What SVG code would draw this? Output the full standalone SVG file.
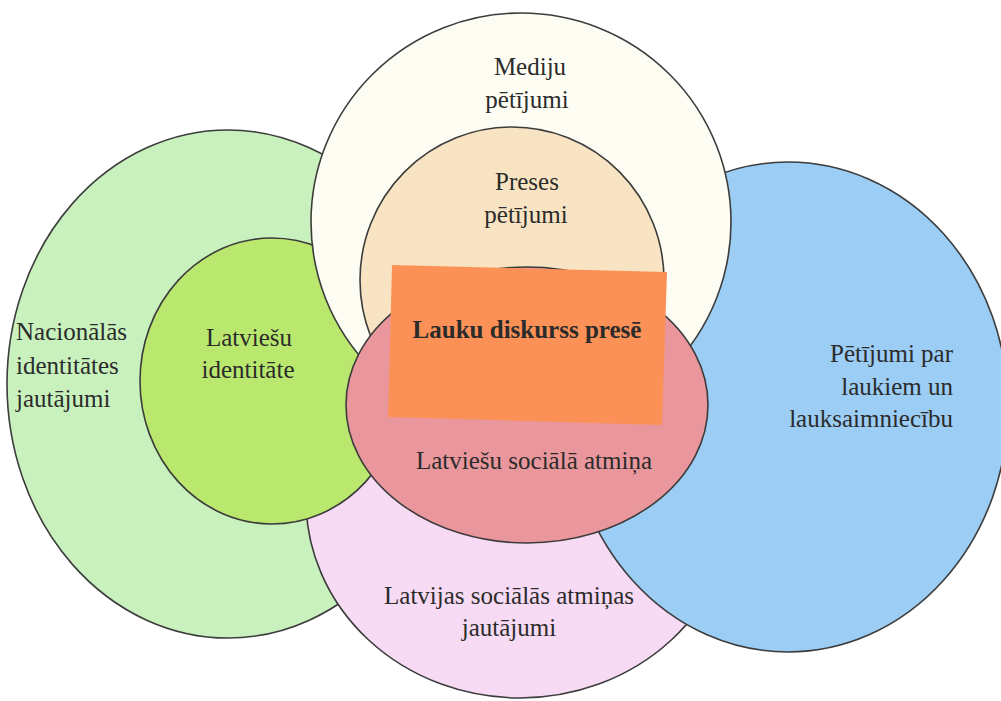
<svg xmlns="http://www.w3.org/2000/svg" width="1001" height="701" viewBox="0 0 1001 701">
<style>
.shape{stroke:#3c3c3c;stroke-width:1.6}
text{font-family:"Liberation Serif","Times New Roman",serif;font-size:25px;fill:#2b2b2b}
.c{text-anchor:middle}
.r{text-anchor:end}
.b{font-weight:bold}
</style>
<rect x="0" y="0" width="1001" height="701" fill="#ffffff"/>
<g id="nacionalas-identitates">
<ellipse class="shape" cx="228" cy="384" rx="221" ry="254" fill="#c9f1bd"/>
<text x="16" y="340">Nacionālās</text>
<text x="16" y="374">identitātes</text>
<text x="16" y="407">jautājumi</text>
</g>
<g id="latvijas-socialas-atminas">
<ellipse class="shape" cx="520" cy="500" rx="214" ry="198" fill="#f7daf3"/>
<text class="c" x="509" y="604">Latvijas sociālās atmiņas</text>
<text class="c" x="509" y="636">jautājumi</text>
</g>
<g id="petijumi-par-laukiem">
<ellipse class="shape" cx="788" cy="407" rx="220" ry="245" fill="#9bcdf5"/>
<text class="r" x="953" y="362">Pētījumi par</text>
<text class="r" x="953" y="395">laukiem un</text>
<text class="r" x="953" y="427">lauksaimniecību</text>
</g>
<g id="latviesu-identitate">
<ellipse class="shape" cx="272" cy="381" rx="132" ry="143" fill="#bae86e"/>
<text class="c" x="249" y="346">Latviešu</text>
<text class="c" x="248" y="378">identitāte</text>
</g>
<g id="mediju-petijumi">
<ellipse class="shape" cx="521" cy="222" rx="210" ry="209" fill="#fdfdf4"/>
<text class="c" x="530" y="75">Mediju</text>
<text class="c" x="527" y="108">pētījumi</text>
</g>
<g id="preses-petijumi">
<ellipse class="shape" cx="512" cy="280" rx="152" ry="153" fill="#f8e4c3"/>
<text class="c" x="527" y="190">Preses</text>
<text class="c" x="526" y="223">pētījumi</text>
</g>
<g id="latviesu-sociala-atmina">
<ellipse class="shape" cx="527" cy="405" rx="181" ry="138" fill="#e9979c"/>
<text class="c" x="534" y="469">Latviešu sociālā atmiņa</text>
</g>
<g id="lauku-diskurss-prese">
<polygon points="392,265 667,272 662,425 388,417" fill="#fb9157"/>
<text class="c b" x="527" y="338">Lauku diskurss presē</text>
</g>
</svg>
